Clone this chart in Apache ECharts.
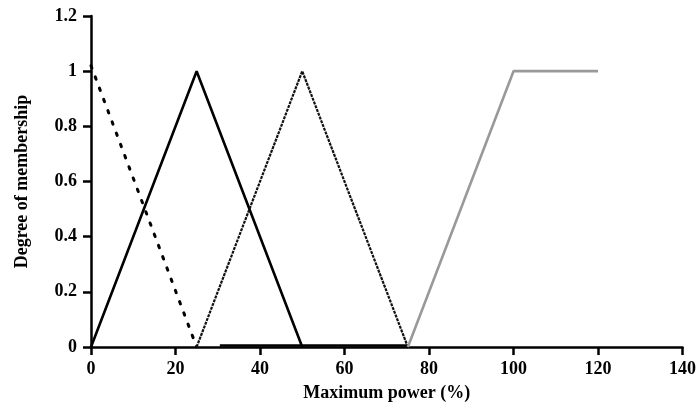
<!DOCTYPE html>
<html>
<head>
<meta charset="utf-8">
<script src="https://cdn.jsdelivr.net/npm/echarts@6/dist/echarts.min.js"></script>
<style>
  html, body { margin: 0; padding: 0; background: #fff; }
  #chart { width: 699px; height: 412px; }
</style>
</head>
<body>
<div id="chart"></div>
<script>
// Membership functions of the "maximum power" fuzzy variable
const xTicks = [0, 20, 40, 60, 80, 100, 120, 140];
const yTicks = [0, 0.2, 0.4, 0.6, 0.8, 1, 1.2];

const lowX = [0, 25];
const lowY = [1.02, 0];

const mediumX = [0, 25, 50];
const mediumY = [0, 1, 0];

const highX = [25, 50, 75];
const highY = [0, 1, 0];

const veryHighX = [75, 100, 120];
const veryHighY = [0, 1, 1];

const floorX = [30.5, 75];
const floorY = [0.005, 0.005];

function pairs(xs, ys) { return xs.map((x, i) => [x, ys[i]]); }

const font = '"Liberation Serif", "Times New Roman", serif';
const chart = echarts.init(document.getElementById('chart'), null, { renderer: 'canvas' });

chart.setOption({
  animation: false,
  backgroundColor: '#fff',
  grid: { left: 91, right: 13, top: 16, bottom: 65 },
  xAxis: {
    type: 'value',
    min: xTicks[0], max: xTicks[xTicks.length - 1], interval: 20,
    name: 'Maximum power (%)',
    nameLocation: 'middle', nameGap: 37,
    nameTextStyle: { fontFamily: font, fontSize: 18, fontWeight: 'bold', color: '#000' },
    axisLine: { show: true, onZero: false, lineStyle: { color: '#000', width: 2.5 } },
    axisTick: { show: true, inside: false, length: 8, lineStyle: { color: '#000', width: 2.5 } },
    axisLabel: { margin: 13, fontFamily: font, fontSize: 18, fontWeight: 'bold', color: '#000' },
    splitLine: { show: false }
  },
  yAxis: {
    type: 'value',
    min: yTicks[0], max: yTicks[yTicks.length - 1], interval: 0.2,
    name: 'Degree of membership',
    nameLocation: 'middle', nameGap: 60,
    nameTextStyle: { fontFamily: font, fontSize: 18, fontWeight: 'bold', color: '#000' },
    axisLine: { show: true, lineStyle: { color: '#000', width: 2.5 } },
    axisTick: { show: true, inside: false, length: 8, lineStyle: { color: '#000', width: 2.5 } },
    axisLabel: {
      margin: 14, fontFamily: font, fontSize: 18, fontWeight: 'bold', color: '#000',
      formatter: v => String(Math.round(v * 10) / 10)
    },
    splitLine: { show: false }
  },
  series: [
    {
      type: 'line', data: pairs(floorX, floorY), symbol: 'none',
      lineStyle: { color: '#000', width: 2.5 }
    },
    {
      type: 'line', data: pairs(lowX, lowY), symbol: 'none',
      lineStyle: { color: '#000', width: 3, type: [2.5, 9.5], cap: 'round' }
    },
    {
      type: 'line', data: pairs(mediumX, mediumY), symbol: 'none',
      lineStyle: { color: '#000', width: 2.6 }
    },
    {
      type: 'line', data: pairs(highX, highY), symbol: 'none',
      lineStyle: { color: '#111', width: 2.2, type: [3, 1] }
    },
    {
      type: 'line', data: pairs(veryHighX, veryHighY), symbol: 'none',
      lineStyle: { color: '#999', width: 2.6 }
    }
  ]
});
</script>
</body>
</html>
